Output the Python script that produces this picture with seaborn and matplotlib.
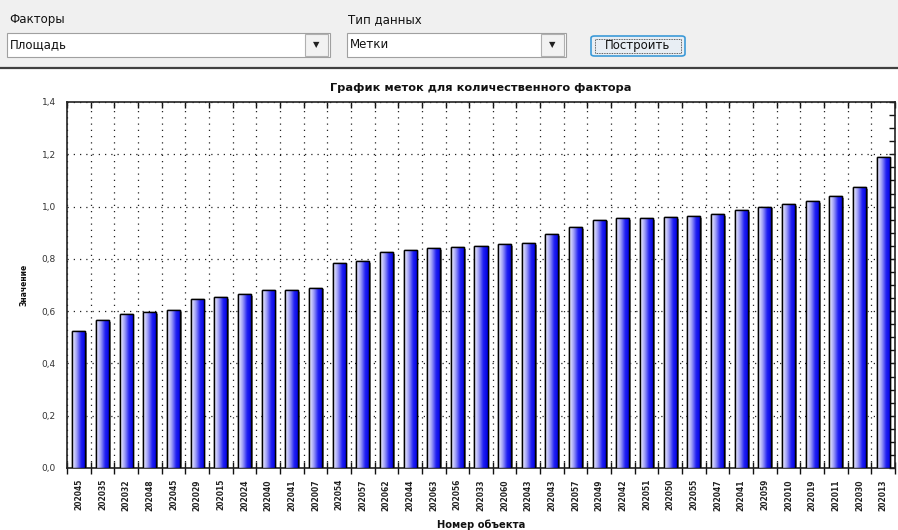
import matplotlib
matplotlib.use("Agg")
import matplotlib.pyplot as plt
import matplotlib.patches as mpatches
from matplotlib.colors import LinearSegmentedColormap
from matplotlib.ticker import MultipleLocator, FuncFormatter
import matplotlib.patheffects as pe
import numpy as np
import pandas as pd
import seaborn as sns

# номера объектов (подписи оси X) и значения меток
object_ids = ["202045", "202035", "202032", "202048", "202045", "202029", "202015",
              "202024", "202040", "202041", "202007", "202054", "202057", "202062",
              "202044", "202063", "202056", "202033", "202060", "202043", "202043",
              "202057", "202049", "202042", "202051", "202050", "202055", "202047",
              "202041", "202059", "202010", "202019", "202011", "202030", "202013"]
values = [0.525, 0.565, 0.59, 0.595, 0.605, 0.645, 0.655, 0.665, 0.68, 0.68,
          0.69, 0.785, 0.79, 0.825, 0.835, 0.84, 0.845, 0.85, 0.855, 0.86,
          0.895, 0.92, 0.95, 0.955, 0.955, 0.96, 0.965, 0.97, 0.985, 1.0,
          1.01, 1.02, 1.04, 1.075, 1.19]

title = "График меток для количественного фактора"
x_label = "Номер объекта"
y_label = "Значение"

sns.set_theme(style="white")
plt.rcParams["font.family"] = ["DejaVu Sans"]

fig = plt.figure(figsize=(8.98, 5.30), dpi=100)
W, H = 898, 530


def fx(px):
    return px / W


def fy(py):
    return 1 - py / H


# ---- верхняя панель с элементами управления ----
fig.patches.append(mpatches.Rectangle((0, fy(68)), 1, 1 - fy(68), transform=fig.transFigure,
                                      facecolor="#f0f0f0", edgecolor="none", zorder=0))
fig.add_artist(plt.Line2D([0, 1], [fy(68), fy(68)], transform=fig.transFigure,
                          color="#404040", lw=1.6))

ui_font = dict(fontsize=8.5, color="#111111", va="center", ha="left")
fig.text(fx(9), fy(20), "Факторы", **ui_font)
fig.text(fx(348), fy(20), "Тип данных", **ui_font)


def combo(x0, x1, text):
    fig.patches.append(mpatches.Rectangle((fx(x0), fy(57)), fx(x1 - x0), 24 / H,
                                          transform=fig.transFigure, facecolor="white",
                                          edgecolor="#a0a0a0", lw=0.8))
    fig.patches.append(mpatches.Rectangle((fx(x1 - 25), fy(56)), fx(23), 22 / H,
                                          transform=fig.transFigure, facecolor="#f2f2f2",
                                          edgecolor="#b0b0b0", lw=0.8))
    fig.text(fx(x1 - 13.5), fy(45), "▼", fontsize=6, ha="center", va="center", color="#202020")
    fig.text(fx(x0 + 3), fy(45), text, **ui_font)


combo(7, 330, "Площадь")
combo(347, 566, "Метки")
fig.patches.append(mpatches.FancyBboxPatch((fx(591), fy(56)), fx(94), 20 / H,
                                           boxstyle="round,pad=0,rounding_size=0.004",
                                           transform=fig.transFigure, facecolor="#e8eef4",
                                           edgecolor="#3c9ad8", lw=1.2))
fig.patches.append(mpatches.Rectangle((fx(595), fy(53)), fx(86), 14 / H,
                                      transform=fig.transFigure, facecolor="none",
                                      edgecolor="#303030", lw=0.6, linestyle=(0, (1, 1))))
fig.text(fx(638), fy(46), "Построить", fontsize=8.5, ha="center", va="center", color="#111111")

# ---- график ----
ax = fig.add_axes([fx(67), fy(468), fx(895 - 67), (468 - 102) / H])

df = pd.DataFrame({"pos": [str(i) for i in range(len(values))], "val": values})
sns.barplot(data=df, x="pos", y="val", ax=ax, width=0.55, color="blue",
            edgecolor="black", linewidth=1.0, zorder=3)

xlim = (-0.5, len(values) - 0.5)
ylim = (0, 1.4)

# градиентная заливка столбиков + тень
cmap = LinearSegmentedColormap.from_list("bar", ["#f6f6ff", "#a0a0f6", "#2020f2", "#0000e0"])
grad = np.linspace(0, 1, 64).reshape(1, -1)
for patch in list(ax.patches):
    x0, w, h = patch.get_x(), patch.get_width(), patch.get_height()
    patch.set_facecolor("#888888")
    patch.set_zorder(2.5)
    patch.set_path_effects([pe.SimplePatchShadow(offset=(1.3, -1.3), shadow_rgbFace="#666666",
                                                 alpha=0.8), pe.Normal()])
    im = ax.imshow(grad, extent=[x0, x0 + w, 0, h], aspect="auto", cmap=cmap,
                   origin="lower", zorder=2.9, interpolation="bilinear")
    im.set_clip_path(patch)
    ax.add_patch(mpatches.Rectangle((x0, 0), w, h, facecolor="none", edgecolor="black",
                                    lw=1.0, zorder=3.2))

ax.set_xlim(xlim)
ax.set_ylim(ylim)

ax.set_title(title, fontsize=8.2, fontweight="bold", pad=8, color="#111111")
ax.set_xlabel(x_label, fontsize=7.2, fontweight="bold", color="#111111")
ax.set_ylabel(y_label, fontsize=5.5, fontweight="bold", color="#111111")
ax.xaxis.set_label_coords(0.5, -0.14)
ax.yaxis.set_label_coords(-0.046, 0.5)

ax.set_xticks(range(len(values)))
ax.set_xticklabels(object_ids, rotation=90, fontsize=5.5, fontweight="bold", color="#222222")
ax.tick_params(axis="x", which="major", length=0, pad=8)
ax.set_xticks(np.arange(len(values) + 1) - 0.5, minor=True)
ax.tick_params(axis="x", which="minor", direction="inout", length=9, width=1.0,
               color="#111111", top=False, bottom=True)

ax.yaxis.set_major_locator(MultipleLocator(0.2))
ax.yaxis.set_minor_locator(MultipleLocator(0.05))
ax.yaxis.set_major_formatter(FuncFormatter(lambda v, p: f"{v:.1f}".replace(".", ",")))
ax.tick_params(axis="y", which="major", direction="inout", length=10, width=1.0,
               labelsize=6.5, color="#111111", labelcolor="#333333", right=False, pad=3)
ax.tick_params(axis="y", which="minor", direction="inout", length=6, width=1.0,
               color="#111111", right=False)

# засечки справа и сверху
ax_r = ax.secondary_yaxis("right")
ax_r.yaxis.set_major_locator(MultipleLocator(0.2))
ax_r.yaxis.set_minor_locator(MultipleLocator(0.05))
ax_r.tick_params(which="both", direction="in", length=4, width=1.0, color="#111111",
                 labelright=False)
ax_r.spines["right"].set_visible(False)
ax_t = ax.secondary_xaxis("top")
ax_t.set_xticks([])
ax_t.set_xticks(np.arange(len(values) + 1) - 0.5, minor=True)
ax_t.tick_params(which="minor", direction="in", length=4, width=1.0, color="#111111")
ax_t.spines["top"].set_visible(False)

ax.grid(True, which="major", axis="y", color="#222222", linestyle=(0, (1, 4)), lw=0.9, zorder=1)
ax.grid(True, which="minor", axis="x", color="#222222", linestyle=(0, (1, 4)), lw=0.9, zorder=1)
ax.grid(False, which="major", axis="x")
ax.set_axisbelow(True)

for side in ["left", "bottom", "top", "right"]:
    ax.spines[side].set_visible(True)
    ax.spines[side].set_color("#222222")
    ax.spines[side].set_linewidth(1.2)

fig.savefig("out.png", dpi=100, facecolor="white")
